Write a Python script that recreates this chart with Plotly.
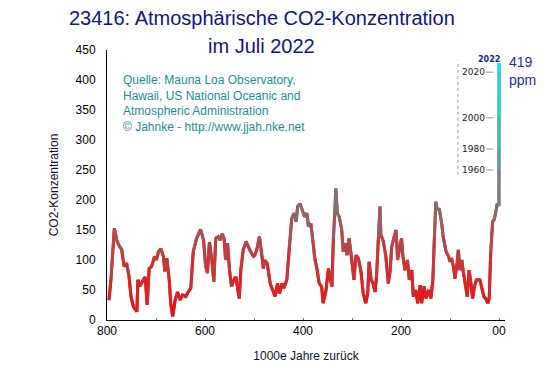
import plotly.graph_objects as go

# ---------------- data ----------------
# ice-core record: thousand years before present / value on chart scale
kyr_ago = [796, 792, 785, 780, 776, 770, 765, 760, 755, 751, 746, 739, 737, 733, 728, 722, 718, 714,
           709, 703, 699, 695, 690, 685, 682, 678, 673, 670, 666, 661, 656, 651, 646, 639, 634, 629,
           624, 617, 609, 603, 599, 595, 591, 586, 582, 578, 573, 569, 565, 561, 558, 554, 550, 546,
           541, 537, 534, 530, 527, 522, 516, 512, 507, 501, 498, 493, 489, 484, 481, 478, 473, 467,
           462, 457, 452, 448, 443, 439, 433, 428, 423, 418, 414, 411, 406, 401, 397, 392, 389, 384,
           380, 376, 371, 367, 362, 359, 353, 348, 345, 341, 338, 335, 333, 330, 326, 321, 318, 313,
           310, 306, 301, 296, 292, 287, 282, 277, 272, 268, 265, 261, 257, 253, 250, 246, 243, 241,
           236, 231, 226, 222, 219, 214, 210, 207, 203, 199, 196, 192, 187, 183, 178, 175, 170, 166,
           161, 158, 153, 149, 144, 139, 135, 132, 129, 126, 122, 117, 114, 108, 103, 100, 97, 93,
           90, 86, 83, 80, 76, 73, 68, 65, 61, 57, 54, 50, 46, 39, 34, 31, 27, 23, 20, 17,
           13, 10, 7, 3.5]
co2_scaled = [33, 67, 153, 133, 125, 117, 89, 95, 72, 39, 22, 14, 67, 56, 64, 72, 25, 86,
              89, 106, 100, 114, 119, 106, 81, 103, 67, 28, 6, 33, 47, 33, 42, 39, 47, 53,
              114, 136, 151, 133, 92, 78, 130, 100, 64, 136, 139, 133, 144, 136, 100, 128, 83, 56,
              67, 72, 56, 36, 83, 117, 131, 122, 114, 106, 108, 122, 139, 108, 86, 100, 94, 61,
              50, 39, 61, 44, 61, 53, 67, 122, 169, 178, 164, 189, 194, 182, 172, 178, 156, 161,
              133, 103, 83, 61, 56, 28, 50, 86, 72, 56, 136, 178, 219, 178, 172, 150, 114, 128,
              108, 136, 106, 67, 108, 103, 83, 44, 28, 44, 97, 67, 61, 47, 72, 139, 189, 142,
              131, 106, 61, 83, 122, 139, 150, 100, 122, 136, 106, 83, 100, 67, 83, 39, 50, 28,
              58, 28, 56, 36, 50, 36, 67, 139, 197, 183, 186, 161, 139, 114, 106, 97, 103, 89,
              69, 92, 117, 83, 100, 81, 56, 39, 83, 61, 36, 56, 67, 67, 50, 39, 36, 28, 36, 111,
              164, 167, 178, 194]

# instrumental era (Mauna Loa), same chart scale
modern_years = [1850, 1960, 1980, 2000, 2020, 2022]
modern_vals = [190, 250, 285, 337, 413, 428]
label_years = [1960, 1980, 2000, 2020]

x_tickvals = [800, 600, 400, 200, 0]
x_ticktext = ["800", "600", "400", "200", "00"]
y_tickvals = [0, 50, 100, 150, 200, 250, 300, 350, 400, 450]

# ---------------- build figure ----------------
modern_kyr = [(2022 - yr) / 1000 for yr in modern_years]
xs = kyr_ago + modern_kyr
ys = co2_scaled + modern_vals

stops = [(0, (240, 10, 10)), (100, (200, 55, 55)), (150, (165, 85, 90)),
         (200, (120, 120, 120)), (270, (80, 165, 165)), (350, (25, 212, 215)),
         (400, (0, 232, 238)), (430, (0, 240, 245))]


def colour(v):
    if v <= stops[0][0]:
        c = stops[0][1]
    elif v >= stops[-1][0]:
        c = stops[-1][1]
    else:
        for (v0, c0), (v1, c1) in zip(stops[:-1], stops[1:]):
            if v0 <= v <= v1:
                t = (v - v0) / (v1 - v0)
                c = tuple(c0[k] + t * (c1[k] - c0[k]) for k in range(3))
                break
    return "rgb(%d,%d,%d)" % tuple(int(round(q)) for q in c)


fig = go.Figure()

# base line (fills joints between coloured segments)
fig.add_trace(go.Scatter(x=xs, y=ys, mode="lines", line=dict(color="rgb(190,60,60)", width=3),
                         hoverinfo="skip", showlegend=False))

bins = {}
for i in range(len(xs) - 1):
    mid = (ys[i] + ys[i + 1]) / 2
    b = int(mid // 10)
    bx, by = bins.setdefault(b, ([], []))
    bx += [xs[i], xs[i + 1], None]
    by += [ys[i], ys[i + 1], None]
for b, (bx, by) in sorted(bins.items()):
    fig.add_trace(go.Scatter(x=bx, y=by, mode="lines", line=dict(color=colour(b * 10 + 5), width=3),
                             hoverinfo="skip", showlegend=False))

FONT = "Liberation Sans, Arial, sans-serif"

# inset year scale
inset_x = 84
year_vals = dict(zip(modern_years, modern_vals))
fig.add_shape(type="line", xref="x", yref="y", x0=inset_x, x1=inset_x,
              y0=min(year_vals[y] for y in label_years) - 8, y1=max(modern_vals) + 5,
              line=dict(color="#999999", width=1, dash="dot"))
for yr in label_years:
    fig.add_annotation(x=12, y=year_vals[yr], xref="x", yref="y", text=str(yr),
                       showarrow=True, arrowhead=0, arrowwidth=1, arrowcolor="#999999",
                       ax=-20, ay=0, standoff=0,
                       font=dict(family="DejaVu Sans, sans-serif", size=9, color="#222222"))
fig.add_annotation(x=20, y=modern_vals[-1], xref="x", yref="y", text="<b>2022</b>",
                   showarrow=False, yshift=4,
                   font=dict(family="DejaVu Sans, sans-serif", size=8, color="#1a1a9a"))

fig.add_annotation(x=1.005, y=415, xref="paper", yref="y", xanchor="left", yanchor="middle",
                   text="419<br>ppm", showarrow=False, align="left",
                   font=dict(family=FONT, size=14, color="#2a2aa8"))

fig.add_annotation(x=0.036, y=0.922, xref="paper", yref="paper", xanchor="left", yanchor="top",
                   align="left", showarrow=False,
                   text="Quelle: Mauna Loa Observatory,<br>Hawaii, US National Oceanic and<br>"
                        "Atmospheric Administration<br>© Jahnke - http://www.jjah.nke.net",
                   font=dict(family=FONT, size=12, color="#1a8f8f"))

# two-line title
TITLE_COLOR = "#12128a"
fig.add_annotation(x=0.389, y=1.118, xref="paper", yref="paper", xanchor="center", yanchor="middle",
                   text="23416: Atmosphärische CO2-Konzentration", showarrow=False,
                   font=dict(family=FONT, size=20, color=TITLE_COLOR))
fig.add_annotation(x=0.389, y=1.015, xref="paper", yref="paper", xanchor="center", yanchor="middle",
                   text="im Juli 2022", showarrow=False,
                   font=dict(family=FONT, size=20, color=TITLE_COLOR))

# page body has an 8px margin; margins below compensate for it
fig.update_layout(
    width=553, height=376,
    margin=dict(l=99, r=56, t=42, b=64),
    paper_bgcolor="white", plot_bgcolor="white",
    font=dict(family=FONT, size=12, color="black"),
    showlegend=False,
)
fig.update_xaxes(range=[800, -12.2], autorange=False, showgrid=False, zeroline=False,
                 showline=True, linecolor="black", linewidth=1,
                 tickvals=x_tickvals, ticktext=x_ticktext, ticks="inside", ticklen=2,
                 tickcolor="#777777",
                 minor=dict(dtick=100, tick0=0, ticks="inside", ticklen=2, tickcolor="#777777"),
                 tickfont=dict(size=12, color="black"),
                 title=dict(text="1000e Jahre zurück", font=dict(size=12, color="#111122"), standoff=14))
fig.update_yaxes(range=[0, 450], autorange=False, showgrid=False, zeroline=False,
                 showline=True, linecolor="black", linewidth=1,
                 tickvals=y_tickvals, ticks="", ticklabelstandoff=8,
                 tickfont=dict(size=12, color="black"),
                 title=dict(text="CO2-Konzentration", font=dict(size=12, color="#111122"), standoff=14))

fig.write_html("out.html")
